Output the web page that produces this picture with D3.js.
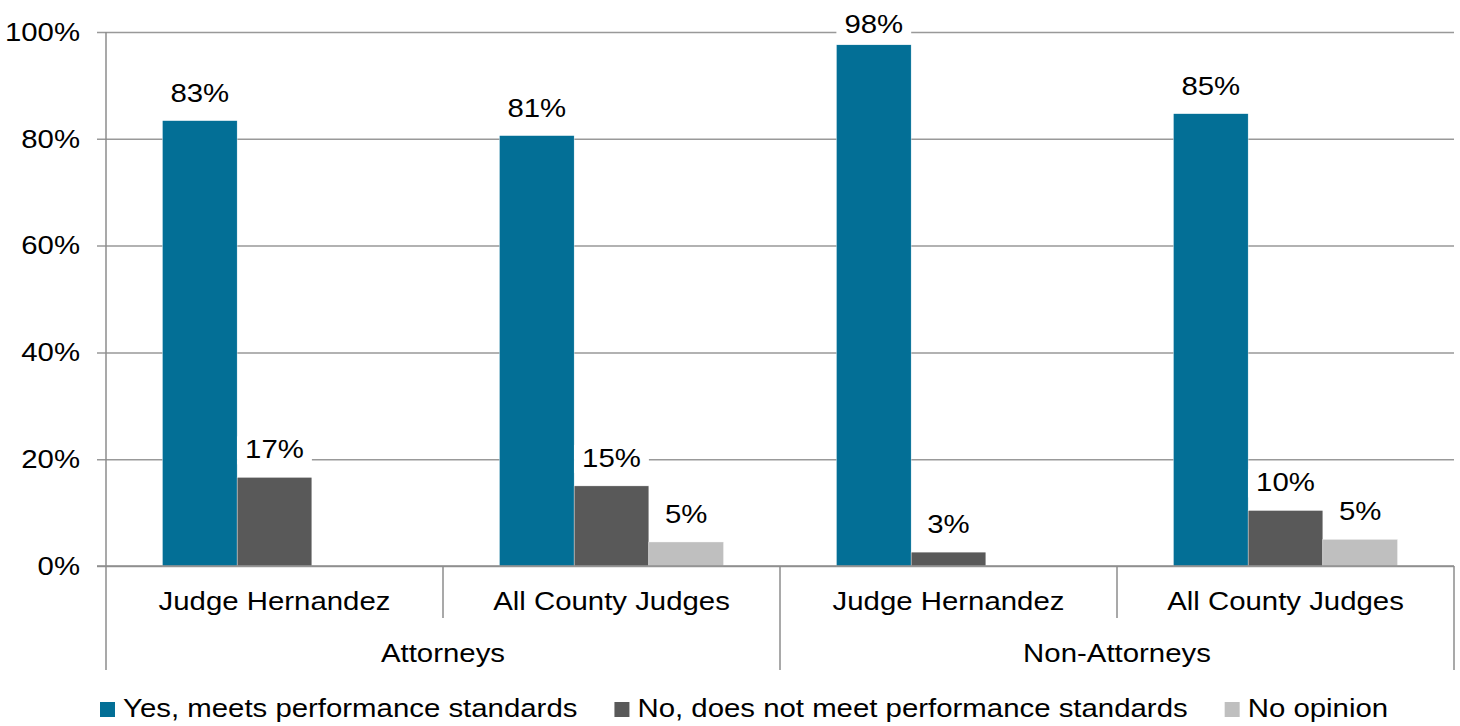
<!DOCTYPE html>
<html>
<head>
<meta charset="utf-8">
<script src="https://cdn.jsdelivr.net/npm/d3@7"></script>
<style>
  body { margin: 0; background: #fff; }
  svg text { font-family: "Liberation Sans", Arial, sans-serif; fill: #000; }
</style>
</head>
<body>
<div id="chart"></div>
<script>
const categories = ['Judge Hernandez', 'All County Judges', 'Judge Hernandez', 'All County Judges'];
const groups = ['Attorneys', 'Non-Attorneys'];
const seriesNames = ['Yes, meets performance standards', 'No, does not meet performance standards', 'No opinion'];
const yesValues = [83.4, 80.6, 97.6, 84.7];
const noValues = [16.6, 15.0, 2.6, 10.4];
const noOpinionValues = [null, 4.5, null, 5.0];
const yTicks = [0, 20, 40, 60, 80, 100];
const colors = ['#036f96', '#595959', '#bfbfbf'];

const width = 1460;
const height = 726;
const fontSize = 26;
const stretch = 1.13;  // reference text is a bit wide

const svg = d3.select('#chart')
    .append('svg')
    .attr('width', width)
    .attr('height', height);

const margin = { top: 32, right: 6, bottom: 160, left: 106 };
const plot = {
    left: margin.left,
    right: width - margin.right,
    top: margin.top,
    bottom: height - margin.bottom
};

const series = [yesValues, noValues, noOpinionValues];
const rows = [];
categories.forEach((c, i) => {
    series.forEach((vals, s) => {
        if (vals[i] != null) rows.push({ cat: i, s, value: vals[i] });
    });
});

const x0 = d3.scaleBand()
    .domain(d3.range(categories.length))
    .range([plot.left, plot.right])
    .paddingInner(0)
    .paddingOuter(0);

const x1 = d3.scaleBand()
    .domain(d3.range(seriesNames.length))
    .range([0, x0.bandwidth()])
    .paddingInner(0)
    .paddingOuter(0.755);

const y = d3.scaleLinear()
    .domain([0, 100])
    .range([plot.bottom, plot.top]);

// gridlines + y axis
const yAxis = svg.append('g')
    .attr('class', 'y-axis')
    .attr('transform', `translate(${plot.left},0)`)
    .call(d3.axisLeft(y).tickValues(yTicks).tickSize(9).tickPadding(14).tickFormat(d => d + '%'));
yAxis.select('.domain').remove();
yAxis.selectAll('.tick line').attr('stroke', '#999').attr('stroke-width', 1.5)
    .attr('x2', plot.right - plot.left).attr('x1', -9);
yAxis.selectAll('.tick text')
    .style('font-size', fontSize + 'px')
    .attr('transform', `scale(${stretch},1)`);

// bars
svg.append('g')
    .attr('class', 'bars')
    .selectAll('rect')
    .data(rows)
    .join('rect')
    .attr('x', d => x0(d.cat) + x1(d.s))
    .attr('width', x1.bandwidth())
    .attr('y', d => y(d.value))
    .attr('height', d => y(0) - y(d.value))
    .attr('fill', d => colors[d.s])
    .attr('stroke', '#fff')
    .attr('stroke-width', 0.4);

// value labels with white backing
const labels = svg.append('g').attr('class', 'labels')
    .selectAll('g')
    .data(rows)
    .join('g')
    .attr('transform', d => {
        const cx = x0(d.cat) + x1(d.s) + x1.bandwidth() / 2;
        const by = Math.max(y(d.value) - 19, plot.top + 1);
        return `translate(${cx},${by})`;
    });
labels.append('rect').attr('fill', '#fff');
labels.append('text')
    .attr('text-anchor', 'middle')
    .attr('transform', `scale(${stretch},1)`)
    .style('font-size', fontSize + 'px')
    .text(d => Math.round(d.value) + '%');
labels.each(function () {
    const t = d3.select(this).select('text').node();
    const w = t.getComputedTextLength() * stretch;
    d3.select(this).select('rect')
        .attr('x', -w / 2 - 8).attr('width', w + 16)
        .attr('y', -22).attr('height', 28);
});

// x axis: baseline and separators
const axisColor = '#8c8c8c';
svg.append('line')
    .attr('x1', plot.left - 9).attr('x2', plot.right)
    .attr('y1', plot.bottom).attr('y2', plot.bottom)
    .attr('stroke', axisColor).attr('stroke-width', 1.5);
svg.append('line')
    .attr('x1', plot.left).attr('x2', plot.left)
    .attr('y1', plot.top).attr('y2', plot.bottom + 104)
    .attr('stroke', axisColor).attr('stroke-width', 1.5);

const seps = d3.range(1, categories.length + 1).map(i => ({
    x: i < categories.length ? x0(i) : plot.right,
    long: i % 2 === 0
}));
svg.append('g').selectAll('line')
    .data(seps)
    .join('line')
    .attr('x1', d => d.x).attr('x2', d => d.x)
    .attr('y1', plot.bottom)
    .attr('y2', d => plot.bottom + (d.long ? 104 : 52))
    .attr('stroke', axisColor).attr('stroke-width', 1.5);

svg.append('g').selectAll('text')
    .data(categories)
    .join('text')
    .attr('transform', (d, i) => `translate(${x0(i) + x0.bandwidth() / 2},${plot.bottom + 44}) scale(${stretch},1)`)
    .attr('text-anchor', 'middle')
    .style('font-size', fontSize + 'px')
    .text(d => d);

svg.append('g').selectAll('text')
    .data(groups)
    .join('text')
    .attr('transform', (d, i) => `translate(${x0(i * 2) + x0.bandwidth()},${plot.bottom + 96}) scale(${stretch},1)`)
    .attr('text-anchor', 'middle')
    .style('font-size', fontSize + 'px')
    .text(d => d);

// legend
const legend = svg.append('g').attr('class', 'legend');
let lx = 100;
seriesNames.forEach((name, i) => {
    legend.append('rect')
        .attr('x', lx).attr('y', 702)
        .attr('width', 15).attr('height', 15)
        .attr('fill', colors[i]);
    const t = legend.append('text')
        .attr('transform', `translate(${lx + 23},717) scale(${stretch},1)`)
        .style('font-size', fontSize + 'px')
        .text(name);
    lx += 23 + t.node().getComputedTextLength() * stretch + 37;
});
</script>
</body>
</html>
